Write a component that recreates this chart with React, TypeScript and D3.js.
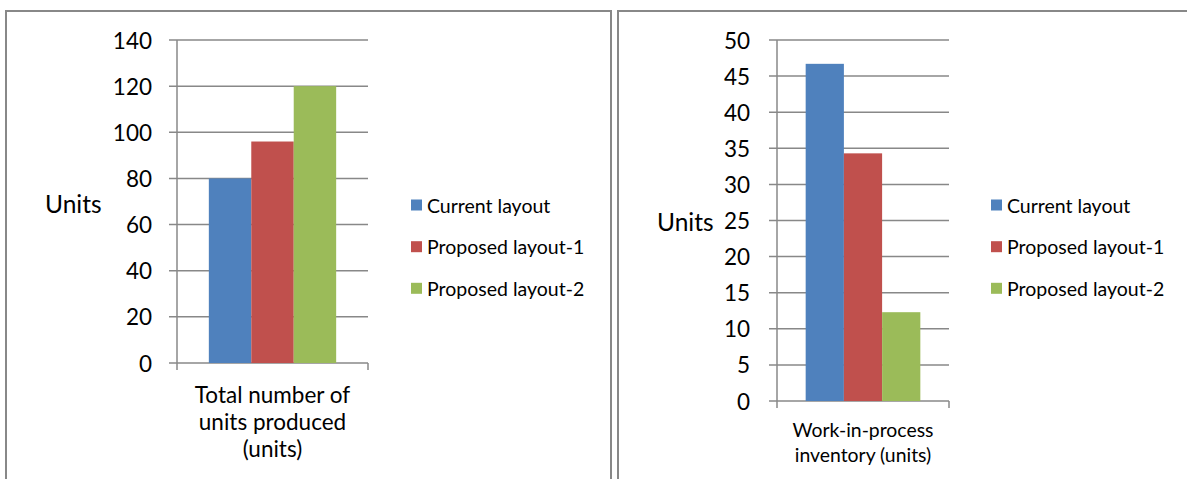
import React from "react";
import * as d3 from "d3";

const seriesNames = ["Current layout", "Proposed layout-1", "Proposed layout-2"];
const seriesColors = ["#4F81BD", "#C0504D", "#9BBB59"];

const leftCategory = ["Total number of", "units produced", "(units)"];
const leftValues = [80, 96, 120];
const leftTicks = [0, 20, 40, 60, 80, 100, 120, 140];

const rightCategory = ["Work-in-process", "inventory (units)"];
const rightValues = [46.7, 34.3, 12.3];
const rightTicks = [0, 5, 10, 15, 20, 25, 30, 35, 40, 45, 50];

const FONT = "Lato, 'Open Sans', sans-serif";
const GRID = "#888888";

type PanelProps = {
  values: number[];
  ticks: number[];
  category: string[];
  x0: number;
  x1: number;
  yTop: number;
  yBottom: number;
  tickLabelRight: number;
  tickFont: number;
  unitsX: number;
  unitsY: number;
  unitsFont: number;
  catY: number;
  catStep: number;
  catFont: number;
  legendX: number;
  legendYs: number[];
  legendFont: number;
};

function Panel(p: PanelProps) {
  const y = d3
    .scaleLinear()
    .domain([0, p.ticks[p.ticks.length - 1]])
    .range([p.yBottom, p.yTop]);
  const xCat = d3.scaleBand().domain(["c"]).range([p.x0, p.x1]).paddingInner(0).paddingOuter(0);
  const bw = xCat.bandwidth();
  // Excel gap width 150%: bar width = band / (3 + 1.5)
  const barW = bw / (seriesNames.length + 1.5);
  const groupStart = (xCat("c") as number) + (bw - barW * seriesNames.length) / 2;
  const xSeries = d3
    .scaleBand()
    .domain(seriesNames)
    .range([groupStart, groupStart + barW * seriesNames.length])
    .padding(0);
  const cx = (p.x0 + p.x1) / 2;
  return (
    <g>
      {p.ticks.map((t) => (
        <g key={t}>
          <line x1={p.x0 - 8} x2={p.x1} y1={y(t)} y2={y(t)} stroke={GRID} strokeWidth={1.5} />
          <text
            x={p.tickLabelRight}
            y={y(t)}
            textAnchor="end"
            dominantBaseline="central"
            fontSize={p.tickFont}
            fontFamily={FONT}
            fill="#000"
          >
            {t}
          </text>
        </g>
      ))}
      {seriesNames.map((s, i) => (
        <rect
          key={s}
          x={xSeries(s) as number}
          y={y(p.values[i])}
          width={xSeries.bandwidth()}
          height={y(0) - y(p.values[i])}
          fill={seriesColors[i]}
        />
      ))}
      <line x1={p.x0} x2={p.x0} y1={p.yTop} y2={p.yBottom + 7} stroke={GRID} strokeWidth={1.5} />
      <line x1={p.x1} x2={p.x1} y1={p.yBottom} y2={p.yBottom + 7} stroke={GRID} strokeWidth={1.5} />
      <text
        x={p.unitsX}
        y={p.unitsY}
        dominantBaseline="central"
        fontSize={p.unitsFont}
        fontFamily={FONT}
        fill="#000"
      >
        Units
      </text>
      {p.category.map((line, i) => (
        <text
          key={line}
          x={cx}
          y={p.catY + i * p.catStep}
          textAnchor="middle"
          fontSize={p.catFont}
          fontFamily={FONT}
          fill="#000"
        >
          {line}
        </text>
      ))}
      {seriesNames.map((s, i) => (
        <g key={s}>
          <rect x={p.legendX} y={p.legendYs[i] - 5.5} width={11} height={11} fill={seriesColors[i]} />
          <text
            x={p.legendX + 16}
            y={p.legendYs[i]}
            dominantBaseline="central"
            fontSize={p.legendFont}
            fontFamily={FONT}
            fill="#000"
          >
            {s}
          </text>
        </g>
      ))}
    </g>
  );
}

export default function App() {
  return (
    <svg
      width={1187}
      height={479}
      style={{ position: "absolute", left: 0, top: 0, background: "#fff" }}
    >
      <rect x={0} y={0} width={1187} height={479} fill="#fff" />
      <rect x={6} y={11} width={605} height={500} fill="none" stroke={GRID} strokeWidth={2} />
      <rect x={618} y={11} width={600} height={500} fill="none" stroke={GRID} strokeWidth={2} />
      <Panel
        values={leftValues}
        ticks={leftTicks}
        category={leftCategory}
        x0={177}
        x1={368}
        yTop={40}
        yBottom={363}
        tickLabelRight={152}
        tickFont={22.5}
        unitsX={45}
        unitsY={203}
        unitsFont={24.5}
        catY={403}
        catStep={27}
        catFont={22.5}
        legendX={411}
        legendYs={[205, 246.7, 288.3]}
        legendFont={19.5}
      />
      <Panel
        values={rightValues}
        ticks={rightTicks}
        category={rightCategory}
        x0={777}
        x1={949}
        yTop={40}
        yBottom={401}
        tickLabelRight={750}
        tickFont={22.5}
        unitsX={657}
        unitsY={221}
        unitsFont={24.5}
        catY={437}
        catStep={25}
        catFont={19.4}
        legendX={991}
        legendYs={[205, 246.7, 288.3]}
        legendFont={19.5}
      />
    </svg>
  );
}
